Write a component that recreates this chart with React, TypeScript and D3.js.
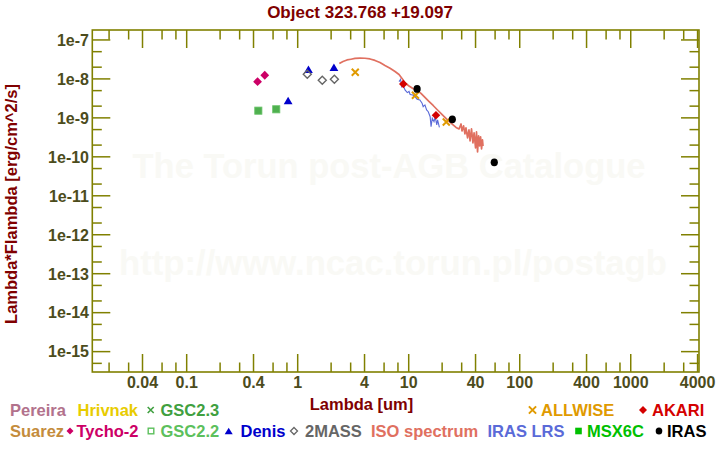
import React from "react";
import * as d3 from "d3";

// ---------- data ----------
const titleText = "Object 323.768 +19.097";
const xAxisTitle = "Lambda [um]";
const yAxisTitle = "Lambda*Flambda [erg/cm^2/s]";
const watermark1 = "The Torun post-AGB Catalogue";
const watermark2 = "http://www.ncac.torun.pl/postagb";

const xMajorTicks = [0.04, 0.1, 0.4, 1, 4, 10, 40, 100, 400, 1000, 4000];
const xTickLabels = ["0.04", "0.1", "0.4", "1", "4", "10", "40", "100", "400", "1000", "4000"];
const xMinorTicks = [0.02, 0.03, 0.06, 0.08, 0.2, 0.3, 0.6, 0.8, 2, 3, 6, 8, 20, 30, 60, 80, 200, 300, 600, 800, 2000, 3000];

const yMajorTicks = [1e-15, 1e-14, 1e-13, 1e-12, 1e-11, 1e-10, 1e-9, 1e-8, 1e-7];
const yTickLabels = ["1e-15", "1e-14", "1e-13", "1e-12", "1e-11", "1e-10", "1e-9", "1e-8", "1e-7"];
const yMinorTicks = [5e-16, 2e-15, 5e-15, 2e-14, 5e-14, 2e-13, 5e-13, 2e-12, 5e-12, 2e-11, 5e-11, 2e-10, 5e-10, 2e-9, 5e-9, 2e-8, 5e-8];

const tychoLambda = [0.435, 0.505];
const tychoFlux = [8.5e-9, 1.24e-8];
const gsc22Lambda = [0.442, 0.641];
const gsc22Flux = [1.53e-9, 1.66e-9];
const denisLambda = [0.82, 1.25, 2.12];
const denisFlux = [2.8e-9, 1.77e-8, 1.99e-8];
const twoMassLambda = [1.22, 1.665, 2.14];
const twoMassFlux = [1.32e-8, 9.25e-9, 9.8e-9];
const allwiseLambda = [3.3, 11.5, 21.8];
const allwiseFlux = [1.48e-8, 3.81e-9, 7.86e-10];
const akariLambda = [8.94, 17.6];
const akariFlux = [7.43e-9, 1.17e-9];
const irasLambda = [11.9, 24.7, 59];
const irasFlux = [5.52e-9, 9.2e-10, 7.24e-11];

const isoLambda = [2.37, 2.56, 2.78, 3.02, 3.28, 3.64, 4.04, 4.48, 4.97, 5.51, 6.11, 6.79, 7.53, 8.18, 8.71, 9.26, 10.07, 10.9, 11.9, 12.9, 14.0, 15.2, 16.6, 18.0, 19.5, 21.2, 23.1, 25.1, 26.7, 28.4, 29.6, 30.2, 31.2, 32.1, 32.8, 33.9, 34.9, 35.7, 36.8, 37.9, 38.8, 40.0, 40.8, 41.7, 42.6, 43.5, 44.4, 45.3, 46.2, 46.7];
const isoFlux = [2.49e-8, 2.81e-8, 3.07e-8, 3.2e-8, 3.35e-8, 3.41e-8, 3.39e-8, 3.25e-8, 2.98e-8, 2.64e-8, 2.21e-8, 1.88e-8, 1.55e-8, 1.3e-8, 1.03e-8, 7.87e-9, 6.59e-9, 5.69e-9, 5.06e-9, 4.24e-9, 3.34e-9, 2.64e-9, 2.08e-9, 1.64e-9, 1.3e-9, 1.03e-9, 8.09e-10, 6.58e-10, 5.67e-10, 5.19e-10, 6.98e-10, 4.61e-10, 6.21e-10, 3.86e-10, 5.51e-10, 3.05e-10, 4.9e-10, 2.56e-10, 5.19e-10, 2.27e-10, 4.1e-10, 1.69e-10, 4.35e-10, 1.33e-10, 3.44e-10, 1.9e-10, 3.24e-10, 1.59e-10, 2.71e-10, 1.9e-10];

const lrsLambda = [8.18, 8.44, 8.65, 8.89, 9.26, 9.71, 10.07, 10.3, 10.9, 11.4, 11.9, 12.6, 13.2, 13.5, 14.0, 14.5, 15.0, 15.6, 15.9, 16.3, 16.9, 17.3, 17.9, 18.2, 18.9];
const lrsFlux = [8.51e-9, 9.68e-9, 6.32e-9, 7.0e-9, 5.21e-9, 4.44e-9, 4.76e-9, 3.99e-9, 3.87e-9, 3.51e-9, 3.01e-9, 2.88e-9, 2.37e-9, 1.94e-9, 2.15e-9, 1.6e-9, 1.44e-9, 1.07e-9, 5.95e-10, 9.77e-10, 8.0e-10, 1.07e-9, 6.58e-10, 8.85e-10, 5.74e-10];

const legendRow1 = ["Pereira", "Hrivnak", "GSC2.3", "ALLWISE", "AKARI"];
const legendRow1Colors = ["#b2728c", "#e8cc00", "#40a040", "#e09a00", "#d40000"];
const legendRow1Symbols = ["none", "none", "cross", "cross", "diamond"];
const legendRow2 = ["Suarez", "Tycho-2", "GSC2.2", "Denis", "2MASS", "ISO spectrum", "IRAS LRS", "MSX6C", "IRAS"];
const legendRow2Colors = ["#c48c3c", "#cc0066", "#5cc05c", "#0000cc", "#666666", "#e07060", "#5a6ad8", "#00c000", "#000000"];
const legendRow2Symbols = ["none", "diamond", "hsquare", "triangle", "hdiamond", "none", "none", "square", "circle"];

// ---------- layout ----------
const W = 720;
const H = 450;
const L = 92.3, R = 699, T = 30, B = 372;
const row1X = [10, 77.5, 160.5, 541, 652];
const row1MarkX = [0, 0, 150.7, 532.5, 643];
const row2X = [10, 76.5, 160.5, 240.5, 305, 371, 487.5, 587, 667];
const row2MarkX = [0, 70, 151, 228.7, 294, 0, 0, 578.5, 659];

const FONT = "'Liberation Sans', Arial, Helvetica, sans-serif";

const diamond = (cx: number, cy: number, r: number) =>
  `M${cx},${cy - r}L${cx + r},${cy}L${cx},${cy + r}L${cx - r},${cy}Z`;
const triangle = (cx: number, cy: number, w: number, h: number) =>
  `M${cx},${cy - h / 2}L${cx + w / 2},${cy + h / 2}L${cx - w / 2},${cy + h / 2}Z`;
const cross = (cx: number, cy: number, r: number) =>
  `M${cx - r},${cy - r}L${cx + r},${cy + r}M${cx - r},${cy + r}L${cx + r},${cy - r}`;

function LegendMark({ kind, cx, cy, color, big }: { kind: string; cx: number; cy: number; color: string; big?: boolean }) {
  const s = big ? 3.6 : 3;
  if (kind === "cross") return <path d={cross(cx, cy, s)} stroke={color} strokeWidth={big ? 2 : 1.6} fill="none" />;
  if (kind === "diamond") return <path d={diamond(cx, cy, big ? 4 : 3.5)} fill={color} />;
  if (kind === "hdiamond") return <path d={diamond(cx, cy, 3.5)} fill="#fff" stroke={color} strokeWidth={1.3} />;
  if (kind === "triangle") return <path d={triangle(cx, cy, 8, 6.5)} fill={color} />;
  if (kind === "hsquare") return <rect x={cx - 2.8} y={cy - 2.8} width={5.6} height={5.6} fill="#fff" stroke={color} strokeWidth={1.4} />;
  if (kind === "square") return <rect x={cx - 3.3} y={cy - 3.3} width={6.6} height={6.6} fill={color} />;
  if (kind === "circle") return <ellipse cx={cx} cy={cy} rx={3.3} ry={3.6} fill={color} />;
  return null;
}

export default function App() {
  const x = d3.scaleLog().domain([0.01412, 4120]).range([L, R]);
  const y = d3.scaleLog().domain([3.0e-16, 1.8e-7]).range([B, T]);

  const isoPath = d3
    .line<number>()
    .x((d) => x(d))
    .y((_, i) => y(isoFlux[i]))(isoLambda) as string;
  const lrsPath = d3
    .line<number>()
    .x((d) => x(d))
    .y((_, i) => y(lrsFlux[i]))(lrsLambda) as string;

  const olive = "#808000";
  const tickText = "#4c4c1c";

  return (
    <svg width={W} height={H} style={{ position: "absolute", left: 0, top: 0, background: "#fff" }} fontFamily={FONT}>
      <rect x={0} y={0} width={W} height={H} fill="#fff" />
      {/* watermark */}
      <text x={389} y={178} textAnchor="middle" fontSize={34.5} fontWeight="bold" fill="#f9f9f5">
        {watermark1}
      </text>
      <text x={393} y={275} textAnchor="middle" fontSize={34.7} fontWeight="bold" fill="#f9f9f5">
        {watermark2}
      </text>

      {/* title */}
      <text x={360} y={18} textAnchor="middle" fontSize={17} fontWeight="bold" fill="#800000">
        {titleText}
      </text>

      {/* ticks */}
      <g stroke={olive} strokeWidth={1.5}>
        {xMajorTicks.map((t) => (
          <g key={"xM" + t}>
            <line x1={x(t)} x2={x(t)} y1={B} y2={B - 18} />
            <line x1={x(t)} x2={x(t)} y1={T} y2={T + 18} />
          </g>
        ))}
        {xMinorTicks.map((t) => (
          <g key={"xm" + t}>
            <line x1={x(t)} x2={x(t)} y1={B} y2={B - 9.5} />
            <line x1={x(t)} x2={x(t)} y1={T} y2={T + 9.5} />
          </g>
        ))}
        {yMajorTicks.map((t) => (
          <g key={"yM" + t}>
            <line x1={L} x2={L + 18} y1={y(t)} y2={y(t)} />
            <line x1={R} x2={R - 18} y1={y(t)} y2={y(t)} />
          </g>
        ))}
        {yMinorTicks.map((t) => (
          <g key={"ym" + t}>
            <line x1={L} x2={L + 9.5} y1={y(t)} y2={y(t)} />
            <line x1={R} x2={R - 9.5} y1={y(t)} y2={y(t)} />
          </g>
        ))}
      </g>
      <rect x={L} y={T} width={R - L} height={B - T} fill="none" stroke={olive} strokeWidth={1.6} />

      {/* tick labels */}
      <g fontSize={16} fontWeight="bold" fill={tickText}>
        {xMajorTicks.map((t, i) => (
          <text key={"xl" + t} x={x(t)} y={387.5} textAnchor="middle">
            {xTickLabels[i]}
          </text>
        ))}
        {yMajorTicks.map((t, i) => (
          <text key={"yl" + t} x={89} y={y(t) + 5.8} textAnchor="end">
            {yTickLabels[i]}
          </text>
        ))}
      </g>

      {/* axis titles */}
      <text x={361.5} y={409.5} textAnchor="middle" fontSize={16.5} fontWeight="bold" fill="#800000">
        {xAxisTitle}
      </text>
      <text
        transform={`translate(17,204) rotate(-90)`}
        textAnchor="middle"
        fontSize={16.5}
        fontWeight="bold"
        fill="#800000"
      >
        {yAxisTitle}
      </text>

      {/* spectra */}
      <path d={isoPath} fill="none" stroke="#e07060" strokeWidth={1.7} strokeLinejoin="round" />
      <path d={lrsPath} fill="none" stroke="#5a6ad8" strokeWidth={1.1} />

      {/* photometry */}
      {gsc22Lambda.map((l, i) => (
        <rect key={"g" + i} x={x(l) - 3.6} y={y(gsc22Flux[i]) - 3.6} width={7.2} height={7.2} fill="#4fb04f" stroke="#6cc46c" strokeWidth={0.8} />
      ))}
      {tychoLambda.map((l, i) => (
        <path key={"t" + i} d={diamond(x(l), y(tychoFlux[i]), 4.4)} fill="#cc0066" />
      ))}
      {denisLambda.map((l, i) => (
        <path key={"d" + i} d={triangle(x(l), y(denisFlux[i]), 8.8, 7.4)} fill="#0000cc" />
      ))}
      {twoMassLambda.map((l, i) => (
        <path key={"m" + i} d={diamond(x(l), y(twoMassFlux[i]), 4)} fill="none" stroke="#666666" strokeWidth={1.4} />
      ))}
      {allwiseLambda.map((l, i) => (
        <path key={"w" + i} d={cross(x(l), y(allwiseFlux[i]), 3.5)} fill="none" stroke="#e09a00" strokeWidth={2} />
      ))}
      {akariLambda.map((l, i) => (
        <path key={"a" + i} d={diamond(x(l), y(akariFlux[i]), 4.3)} fill="#d40000" />
      ))}
      {irasLambda.map((l, i) => (
        <ellipse key={"i" + i} cx={x(l)} cy={y(irasFlux[i])} rx={3.6} ry={3.9} fill="#000" />
      ))}

      {/* legend */}
      <g fontSize={16.5} fontWeight="bold">
        {legendRow1.map((name, i) => (
          <g key={"l1" + name}>
            <LegendMark kind={legendRow1Symbols[i]} cx={row1MarkX[i]} cy={410} color={legendRow1Colors[i]} big={i >= 3} />
            <text x={row1X[i]} y={415.5} fill={legendRow1Colors[i]}>
              {name}
            </text>
          </g>
        ))}
        {legendRow2.map((name, i) => (
          <g key={"l2" + name}>
            <LegendMark kind={legendRow2Symbols[i]} cx={row2MarkX[i]} cy={431} color={legendRow2Colors[i]} />
            <text x={row2X[i]} y={436.5} fill={legendRow2Colors[i]}>
              {name}
            </text>
          </g>
        ))}
      </g>
    </svg>
  );
}
